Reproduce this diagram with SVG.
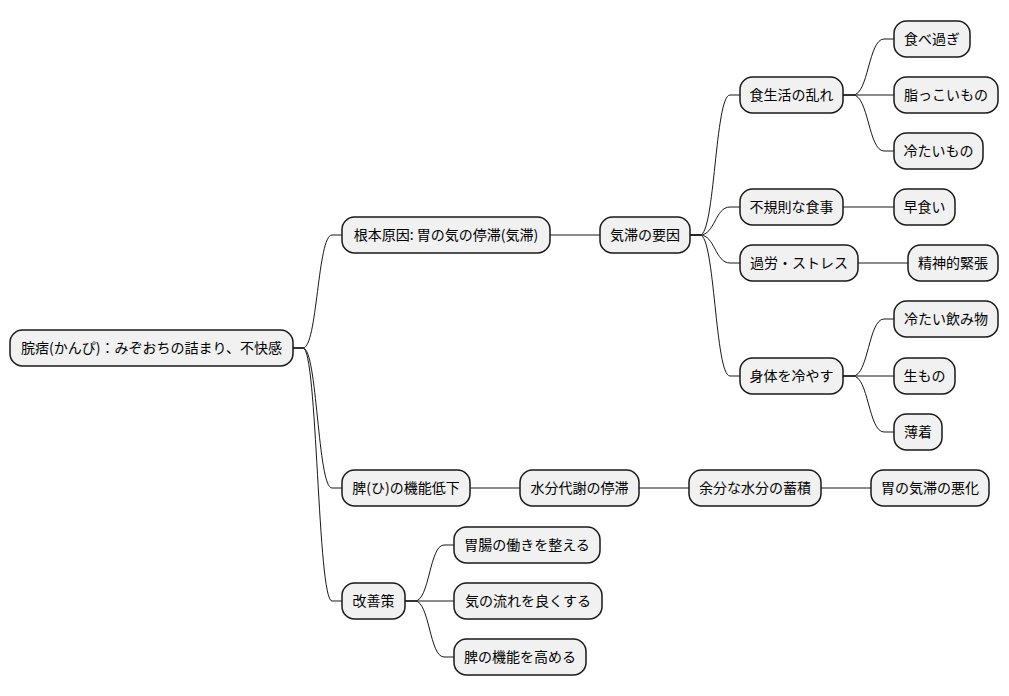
<svg xmlns="http://www.w3.org/2000/svg" width="1009" height="696" viewBox="0 0 1009 696">
<style>
.n rect{fill:#F1F1F1;stroke:#181818;stroke-width:1.5}
.n text{font-family:"Noto Sans CJK JP","Noto Sans",sans-serif;font-size:14px;fill:#000;text-anchor:middle}
#edges path{fill:none;stroke:#181818;stroke-width:1}
</style>
<rect width="1009" height="696" fill="#FFFFFF"/>
<g id="edges">
<path d="M293,348 L303,348 C317.5,348 317.5,235 332,235 L342,235"/>
<path d="M293,348 L303,348 C317.5,348 317.5,488 332,488 L342,488"/>
<path d="M293,348 L303,348 C317.5,348 317.5,601 332,601 L342,601"/>
<path d="M550,235 L600,235"/>
<path d="M690,235 L700,235 C715,235 715,95 730,95 L740,95"/>
<path d="M690,235 L700,235 C715,235 715,207 730,207 L740,207"/>
<path d="M690,235 L700,235 C715,235 715,263 730,263 L740,263"/>
<path d="M690,235 L700,235 C715,235 715,376 730,376 L740,376"/>
<path d="M843,95 L853,95 C868.5,95 868.5,39 884,39 L894,39"/>
<path d="M843,95 L894,95"/>
<path d="M843,95 L853,95 C868.5,95 868.5,151 884,151 L894,151"/>
<path d="M843,207 L894,207"/>
<path d="M858,263 L908,263"/>
<path d="M843,376 L853,376 C868.5,376 868.5,319 884,319 L894,319"/>
<path d="M843,376 L894,376"/>
<path d="M843,376 L853,376 C868.5,376 868.5,432 884,432 L894,432"/>
<path d="M470,488 L520,488"/>
<path d="M639,488 L689,488"/>
<path d="M821,488 L871,488"/>
<path d="M405,601 L415,601 C429.5,601 429.5,545 444,545 L454,545"/>
<path d="M405,601 L454,601"/>
<path d="M405,601 L415,601 C429.5,601 429.5,657 444,657 L454,657"/>
</g>
<g id="root" class="n"><rect x="10" y="330" width="283" height="36" rx="12.5"/><text x="151.5" y="353">脘痞(かんぴ)：みぞおちの詰まり、不快感</text></g>
<g id="n1" class="n"><rect x="342" y="217" width="208" height="36" rx="12.5"/><text x="446" y="240">根本原因: 胃の気の停滞(気滞)</text></g>
<g id="n2" class="n"><rect x="342" y="470" width="128" height="36" rx="12.5"/><text x="406" y="493">脾(ひ)の機能低下</text></g>
<g id="n3" class="n"><rect x="342" y="583" width="63" height="36" rx="12.5"/><text x="373.5" y="606">改善策</text></g>
<g id="n11" class="n"><rect x="600" y="217" width="90" height="36" rx="12.5"/><text x="645" y="240">気滞の要因</text></g>
<g id="n111" class="n"><rect x="740" y="77" width="103" height="36" rx="12.5"/><text x="791.5" y="100">食生活の乱れ</text></g>
<g id="n112" class="n"><rect x="740" y="189" width="103" height="36" rx="12.5"/><text x="791.5" y="212">不規則な食事</text></g>
<g id="n113" class="n"><rect x="740" y="245" width="118" height="36" rx="12.5"/><text x="799" y="268">過労・ストレス</text></g>
<g id="n114" class="n"><rect x="740" y="358" width="103" height="36" rx="12.5"/><text x="791.5" y="381">身体を冷やす</text></g>
<g id="n1111" class="n"><rect x="894" y="21" width="76" height="36" rx="12.5"/><text x="932" y="44">食べ過ぎ</text></g>
<g id="n1112" class="n"><rect x="894" y="77" width="104" height="36" rx="12.5"/><text x="946" y="100">脂っこいもの</text></g>
<g id="n1113" class="n"><rect x="894" y="133" width="89" height="36" rx="12.5"/><text x="938.5" y="156">冷たいもの</text></g>
<g id="n1121" class="n"><rect x="894" y="189" width="61" height="36" rx="12.5"/><text x="924.5" y="212">早食い</text></g>
<g id="n1131" class="n"><rect x="908" y="245" width="90" height="36" rx="12.5"/><text x="953" y="268">精神的緊張</text></g>
<g id="n1141" class="n"><rect x="894" y="301" width="104" height="36" rx="12.5"/><text x="946" y="324">冷たい飲み物</text></g>
<g id="n1142" class="n"><rect x="894" y="358" width="61" height="36" rx="12.5"/><text x="924.5" y="381">生もの</text></g>
<g id="n1143" class="n"><rect x="894" y="414" width="48" height="36" rx="12.5"/><text x="918" y="437">薄着</text></g>
<g id="n21" class="n"><rect x="520" y="470" width="119" height="36" rx="12.5"/><text x="579.5" y="493">水分代謝の停滞</text></g>
<g id="n22" class="n"><rect x="689" y="470" width="132" height="36" rx="12.5"/><text x="755" y="493">余分な水分の蓄積</text></g>
<g id="n23" class="n"><rect x="871" y="470" width="118" height="36" rx="12.5"/><text x="930" y="493">胃の気滞の悪化</text></g>
<g id="n31" class="n"><rect x="454" y="527" width="146" height="36" rx="12.5"/><text x="527" y="550">胃腸の働きを整える</text></g>
<g id="n32" class="n"><rect x="454" y="583" width="148" height="36" rx="12.5"/><text x="528" y="606">気の流れを良くする</text></g>
<g id="n33" class="n"><rect x="454" y="639" width="132" height="36" rx="12.5"/><text x="520" y="662">脾の機能を高める</text></g>
</svg>
